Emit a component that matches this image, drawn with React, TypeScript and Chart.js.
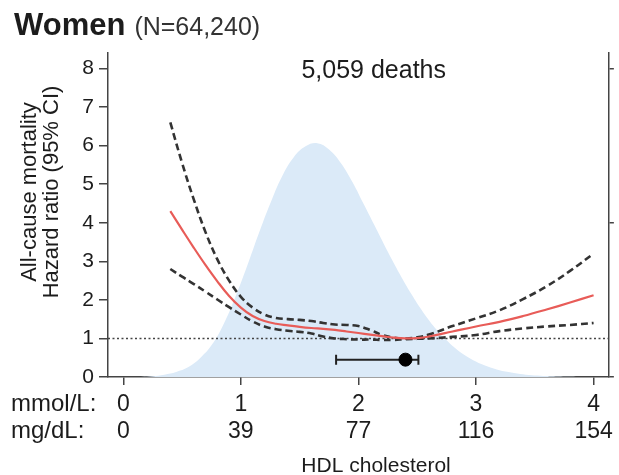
import React, { useEffect, useRef } from "react";
import { Chart, registerables } from "chart.js";

Chart.register(...registerables);

const FONT = '"Liberation Sans", Arial, Helvetica, sans-serif';

// Texts
const titleMain = "Women";
const titleN = "(N=64,240)";
const deathsLabel = "5,059 deaths";
const yTitle = ["All-cause mortality", "Hazard ratio (95% CI)"];
const xTitle = "HDL cholesterol";
const rowLabels = ["mmol/L:", "mg/dL:"];

// Tick labels
const xTickValues = [0, 1, 2, 3, 4];
const mmolTicks = ["0", "1", "2", "3", "4"];
const mgdlTicks = ["0", "39", "77", "116", "154"];

// Hazard ratio curve (HDL in mmol/L)
const hdlGrid = [0.4, 0.5, 0.6, 0.7, 0.8, 0.9, 1.0, 1.1, 1.2, 1.3, 1.4, 1.5, 1.6, 1.7, 1.8, 1.9, 2.0, 2.1, 2.2, 2.3, 2.4, 2.5, 2.6, 2.8, 3.0, 3.2, 3.4, 3.6, 3.8, 4.0];
const hazardRatio = [4.3, 3.82, 3.35, 2.9, 2.48, 2.1, 1.8, 1.58, 1.45, 1.38, 1.34, 1.3, 1.27, 1.25, 1.22, 1.18, 1.14, 1.1, 1.06, 1.02, 1.0, 1.01, 1.05, 1.18, 1.31, 1.43, 1.58, 1.75, 1.93, 2.12];
const ciUpper = [6.6, 5.55, 4.6, 3.75, 3.05, 2.5, 2.08, 1.8, 1.62, 1.53, 1.5, 1.48, 1.45, 1.4, 1.36, 1.35, 1.32, 1.22, 1.09, 1.02, 1.0, 1.03, 1.1, 1.32, 1.52, 1.73, 2.02, 2.35, 2.75, 3.2];
const ciLower = [2.8, 2.6, 2.41, 2.21, 2.01, 1.81, 1.62, 1.44, 1.31, 1.24, 1.2, 1.17, 1.13, 1.05, 1.0, 0.98, 0.97, 0.97, 0.96, 0.96, 0.98, 0.99, 1.0, 1.04, 1.09, 1.19, 1.26, 1.31, 1.35, 1.4];

// Distribution of HDL cholesterol (shaded background)
const densityX = [0.15, 0.25, 0.35, 0.45, 0.55, 0.65, 0.75, 0.85, 0.95, 1.05, 1.15, 1.25, 1.35, 1.45, 1.55, 1.65, 1.75, 1.85, 1.95, 2.05, 2.15, 2.25, 2.35, 2.45, 2.55, 2.65, 2.75, 2.85, 2.95, 3.05, 3.15, 3.25, 3.35, 3.45, 3.55, 3.7, 3.85];
const densityY = [0, 0.02, 0.06, 0.13, 0.25, 0.48, 0.82, 1.35, 2.05, 2.85, 3.7, 4.5, 5.2, 5.7, 5.98, 6.06, 5.9, 5.55, 5.05, 4.45, 3.85, 3.25, 2.68, 2.15, 1.68, 1.28, 0.95, 0.68, 0.48, 0.33, 0.22, 0.14, 0.09, 0.05, 0.03, 0.01, 0];

// Reference value and median with range
const referenceHR = 1;
const medianHdl = 2.4;
const medianRange = [1.81, 2.51];
const medianRowY = 0.45;

const xMin = -0.13;
const xMax = 4.13;
const yMin = 0;
const yMax = 8.4;

const annotatePlugin = {
  id: "annotate",
  afterDraw(chart: any) {
    const { ctx, chartArea, scales } = chart;
    const xs = scales.x;
    ctx.save();
    ctx.fillStyle = "#1c1c1c";
    // Panel title
    ctx.textAlign = "left";
    ctx.textBaseline = "alphabetic";
    ctx.font = `bold 31px ${FONT}`;
    ctx.fillText(titleMain, 14, 35);
    const w = ctx.measureText(titleMain).width;
    ctx.font = `25px ${FONT}`;
    ctx.fillStyle = "#333";
    ctx.fillText(titleN, 14 + w + 9, 35);

    // deaths
    ctx.fillStyle = "#1c1c1c";
    ctx.textAlign = "center";
    ctx.font = `25px ${FONT}`;
    ctx.fillText(deathsLabel, xs.getPixelForValue(2.13), chartArea.top + 25);

    // y title
    ctx.font = `22px ${FONT}`;
    ctx.textBaseline = "middle";
    const cy = chartArea.top + 139;
    yTitle.forEach((t, i) => {
      ctx.save();
      ctx.translate(30 + i * 22, cy);
      ctx.rotate(-Math.PI / 2);
      ctx.fillText(t, 0, 0);
      ctx.restore();
    });

    // row labels for x ticks
    ctx.textAlign = "left";
    ctx.font = `24px ${FONT}`;
    const row0 = xs.top + 8 + 6 + 13.5;
    rowLabels.forEach((t, i) => {
      ctx.fillText(t, 11, row0 + i * 27);
    });

    // x title
    ctx.textAlign = "center";
    ctx.font = `21px ${FONT}`;
    ctx.fillText(xTitle, xs.getPixelForValue(2.15), xs.top + 89);
    ctx.restore();
  },
};

export default function App() {
  const ref = useRef<HTMLCanvasElement | null>(null);

  useEffect(() => {
    if (!ref.current) return;
    const pts = (arr: number[]) => hdlGrid.map((x, i) => ({ x, y: arr[i] }));
    const chart = new Chart(ref.current, {
      type: "line",
      data: {
        datasets: [
          {
            label: "Distribution",
            data: densityX.map((x, i) => ({ x, y: densityY[i] })),
            fill: "origin",
            backgroundColor: "rgb(219,234,248)",
            borderWidth: 0,
            borderColor: "rgba(0,0,0,0)",
            pointRadius: 0,
            tension: 0.4,
            order: 10,
          },
          {
            label: "Reference",
            data: [
              { x: xMin, y: referenceHR },
              { x: xMax, y: referenceHR },
            ],
            borderColor: "#444",
            borderWidth: 1.5,
            borderDash: [2, 2.5],
            pointRadius: 0,
            order: 5,
          },
          {
            label: "Upper CI",
            data: pts(ciUpper),
            borderColor: "#333",
            borderWidth: 2.6,
            borderDash: [7, 4],
            pointRadius: 0,
            tension: 0.4,
            order: 2,
          },
          {
            label: "Lower CI",
            data: pts(ciLower),
            borderColor: "#333",
            borderWidth: 2.6,
            borderDash: [7, 4],
            pointRadius: 0,
            tension: 0.4,
            order: 2,
          },
          {
            label: "Hazard ratio",
            data: pts(hazardRatio),
            borderColor: "rgb(232,92,88)",
            borderWidth: 2.2,
            pointRadius: 0,
            tension: 0.4,
            order: 1,
          },
          {
            label: "Range",
            data: medianRange.map((x) => ({ x, y: medianRowY })),
            borderColor: "#222",
            borderWidth: 2,
            pointStyle: "line",
            rotation: 90,
            pointRadius: 5,
            pointBorderWidth: 2,
            pointBorderColor: "#222",
            order: 1,
          },
          {
            label: "Median",
            data: [{ x: medianHdl, y: medianRowY }],
            showLine: false,
            pointRadius: 6.5,
            pointBackgroundColor: "#000",
            pointBorderColor: "#000",
            order: 0,
          },
        ],
      },
      options: {
        responsive: false,
        animation: false,
        layout: { padding: { top: 53, left: 0, right: 0, bottom: 0 } },
        plugins: {
          legend: { display: false },
          tooltip: { enabled: false },
          title: { display: false },
        },
        scales: {
          x: {
            type: "linear",
            min: xMin,
            max: xMax,
            afterFit: (s: any) => {
              s.height = 98;
            },
            ticks: {
              stepSize: 1,
              includeBounds: false,
              autoSkip: false,
              maxRotation: 0,
              padding: 6,
              color: "#1c1c1c",
              font: { family: FONT, size: 23, lineHeight: 27 / 23 },
              callback: (v: any) => {
                const i = xTickValues.indexOf(Number(v));
                return i >= 0 ? [mmolTicks[i], mgdlTicks[i]] : "";
              },
            },
            grid: { drawOnChartArea: false, tickLength: 8, color: "#444", lineWidth: 1.5 },
            border: { color: "#444", width: 1.5 },
          },
          y: {
            position: "left",
            min: yMin,
            max: yMax,
            afterFit: (s: any) => {
              s.width = 108;
            },
            ticks: {
              stepSize: 1,
              includeBounds: false,
              padding: 5,
              color: "#1c1c1c",
              font: { family: FONT, size: 21 },
            },
            grid: { drawOnChartArea: false, tickLength: 9, color: "#444", lineWidth: 1.5 },
            border: { color: "#444", width: 1.5 },
          },
          y2: {
            position: "right",
            min: yMin,
            max: yMax,
            afterFit: (s: any) => {
              s.width = 7;
            },
            ticks: {
              stepSize: 4,
              includeBounds: false,
              callback: () => "",
            },
            grid: { drawOnChartArea: false, tickLength: 5, color: "#444", lineWidth: 1.5 },
            border: { color: "#444", width: 1.5 },
          },
        },
      },
      plugins: [annotatePlugin],
    } as any);
    return () => chart.destroy();
  }, []);

  return (
    <div style={{ position: "absolute", left: 0, top: 0, width: 619, height: 475, background: "#fff" }}>
      <canvas ref={ref} width={619} height={475} style={{ display: "block" }} />
    </div>
  );
}
